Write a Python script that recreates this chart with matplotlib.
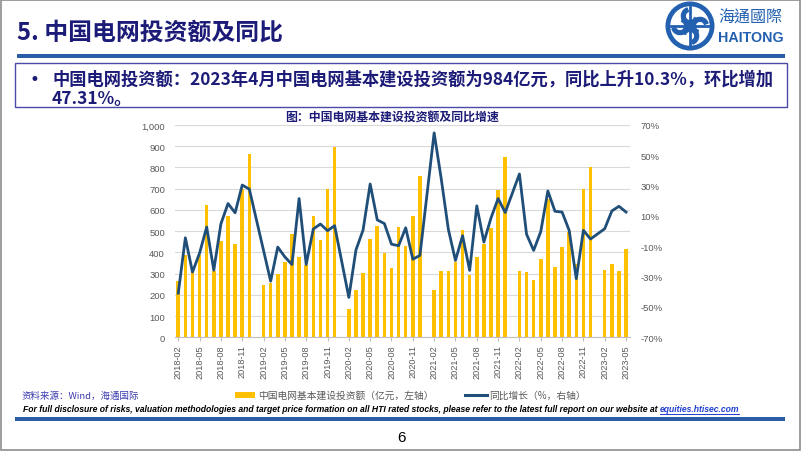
import numpy as np
import pandas as pd
import matplotlib
matplotlib.use('Agg')
import matplotlib.pyplot as plt
from matplotlib.patches import Rectangle, Circle, Wedge
from matplotlib.lines import Line2D
from matplotlib.ticker import FuncFormatter

plt.rcParams['font.family'] = ['Noto Sans CJK SC', 'DejaVu Sans']

# ---------------- data ----------------
months = pd.date_range('2018-02-01', '2023-05-01', freq='MS').strftime('%Y-%m').tolist()
tick_labels = ['2018-02', '2018-05', '2018-08', '2018-11', '2019-02', '2019-05', '2019-08',
               '2019-11', '2020-02', '2020-05', '2020-08', '2020-11', '2021-02', '2021-05',
               '2021-08', '2021-11', '2022-02', '2022-05', '2022-08', '2022-11', '2023-02',
               '2023-05']
nan = np.nan
# 中国电网基本建设投资额（亿元）
investment = [267, 388, 306, 390, 622, 314, 455, 570, 440, 700, 862,
              nan, 244, 255, 300, 355, 486, 378, 340, 573, 460, 699, 898,
              nan, 135, 224, 301, 463, 523, 396, 326, 518, 432, 570, 758,
              nan, 224, 311, 311, 353, 507, 292, 377, 440, 515, 694, 851,
              nan, 314, 308, 272, 368, 652, 333, 427, 495, 345, 698, 804,
              nan, 317, 347, 314, 416]
# 同比增长（%）
yoy = [-40.9, -4.4, -27.0, -14.5, 2.7, -25.8, 4.8, 18.2, 12.1, 30.4, 27.7,
       nan, nan, -33.0, -10.5, -17.0, -22.0, 21.5, -22.0, 1.4, 4.7, 0.3, 3.6,
       nan, -43.7, -12.4, 0.7, 31.1, 7.4, 5.0, -8.6, -9.6, 2.2, -18.5, -16.0,
       nan, 64.8, 34.5, 1.2, -19.3, -3.0, -25.9, 16.7, -7.2, 8.7, 21.5, 12.3,
       nan, 37.7, -2.0, -12.7, -0.3, 26.5, 13.1, 12.6, 0.5, -31.4, 0.5, -5.2,
       nan, 1.6, 13.3, 16.4, 12.6]

legend_bar = '中国电网基本建设投资额（亿元，左轴）'
legend_line = '同比增长（%，右轴）'

# ---------------- figure ----------------
W, H = 802, 452
fig = plt.figure(figsize=(W / 100, H / 100), dpi=100)
fig.patch.set_facecolor('white')
r = fig.canvas.get_renderer()


def fx(x):
    return x / W


def fy(y):
    return 1 - y / H


def fit_width(t, target):
    w = t.get_window_extent(r).width
    t.set_fontsize(t.get_fontsize() * target / w)


NAVY = '#1C1C78'
BLUE = '#2A5CA8'
GOLD = '#FFC000'
LINEC = '#1F4E79'
GRAY = '#595959'
LOGO = '#2360B0'

# slide border
fig.add_artist(Rectangle((0.001, 0.002), 0.997, 0.995, transform=fig.transFigure,
                         fill=False, edgecolor='#8C8C8C', lw=1.2))

# title
tt = fig.text(fx(17), fy(33), '5. 中国电网投资额及同比', fontsize=17, fontweight='bold',
              color=NAVY, ha='left', va='center')
fit_width(tt, 266)
# header rule
fig.add_artist(Rectangle((fx(17), fy(59)), fx(785) - fx(17), 4 / H, transform=fig.transFigure,
                         facecolor=BLUE, edgecolor='none'))

# logo
lax = fig.add_axes([fx(665), fy(52), 50 / W, 50 / H])
lax.set_xlim(-1.05, 1.05)
lax.set_ylim(-1.05, 1.05)
lax.set_aspect('equal')
lax.axis('off')
lax.add_patch(Circle((0, 0), 1.0, color=LOGO))
lax.add_patch(Circle((0, 0), 0.80, color='white'))
for ang in (0, 90, 180, 270):
    lax.add_patch(Wedge((0.42 * np.cos(np.radians(ang)), 0.42 * np.sin(np.radians(ang))),
                        0.36, ang + 20, ang + 250, width=0.16, color=LOGO))
lax.plot([-0.8, 0.8], [0, 0], color=LOGO, lw=2)
lax.plot([0, 0], [-0.8, 0.8], color=LOGO, lw=2)
l1 = fig.text(fx(718), fy(18), '海通國際', fontsize=13, color=LOGO, ha='left', va='center',
              family=['Noto Sans CJK TC', 'DejaVu Sans'])
fit_width(l1, 64)
l2 = fig.text(fx(718), fy(38), 'HAITONG', fontsize=12, color=LOGO, ha='left', va='center',
              fontweight='bold', family=['Liberation Sans Narrow', 'Liberation Sans', 'DejaVu Sans'])
fit_width(l2, 65)

# bullet box
fig.add_artist(Rectangle((fx(15), fy(108)), fx(787) - fx(15), (108 - 64) / H,
                         transform=fig.transFigure, fill=False, edgecolor='#4A4AA8', lw=1))
fig.text(fx(30), fy(80), '•', fontsize=12, color=NAVY, ha='left', va='center',
         family=['DejaVu Sans'])
b1 = fig.text(fx(52), fy(80), '中国电网投资额：2023年4月中国电网基本建设投资额为984亿元，同比上升10.3%，环比增加',
              fontsize=12.4, fontweight='bold', color=NAVY, ha='left', va='center')
fit_width(b1, 723)
fig.text(fx(52), fy(98.5), '47.31%。', fontsize=b1.get_fontsize(), fontweight='bold', color=NAVY,
         ha='left', va='center')

# chart title
fig.text(fx(392), fy(117), '图：中国电网基本建设投资额及同比增速', fontsize=8.6, fontweight='bold',
         color=NAVY, ha='center', va='center')

# ---------------- chart ----------------
ax = fig.add_axes([fx(174.7), fy(338.3), (629.6 - 174.7) / W, (338.3 - 126.0) / H])
x = np.arange(len(months))
inv = np.array(investment, dtype=float)
ax.bar(x, inv, width=0.5, color=GOLD, zorder=2)
ax.set_xlim(-0.5, len(months) - 0.5)
ax.set_ylim(0, 1000)
ax.set_yticks(np.arange(0, 1001, 100))
ax.yaxis.set_major_formatter(FuncFormatter(lambda v, p: f'{int(v):,}'))
ax.grid(axis='y', color='#D9D9D9', lw=0.8)
ax.set_axisbelow(True)
for s in ('top', 'left', 'right'):
    ax.spines[s].set_visible(False)
ax.spines['bottom'].set_color('#BFBFBF')
ax.tick_params(axis='y', length=0, labelsize=6.8, labelcolor=GRAY, pad=7)
pos = [months.index(t) for t in tick_labels]
ax.set_xticks(pos)
ax.set_xticklabels(tick_labels, rotation=90)
ax.tick_params(axis='x', length=3, color='#BFBFBF', labelsize=6.6, labelcolor=GRAY, pad=2)
for lab in ax.get_yticklabels() + ax.get_xticklabels():
    lab.set_family(['Liberation Sans', 'DejaVu Sans'])

ax2 = ax.twinx()
yv = np.array(yoy, dtype=float)
m = ~np.isnan(yv)
ax2.plot(x[m], yv[m], color=LINEC, lw=2.0, zorder=3)
ax2.set_ylim(-70, 70)
ax2.set_yticks(np.arange(-70, 71, 20))
ax2.yaxis.set_major_formatter(FuncFormatter(lambda v, p: f'{int(round(v))}%'))
for s in ax2.spines.values():
    s.set_visible(False)
ax2.tick_params(axis='y', length=0, labelsize=6.8, labelcolor=GRAY, pad=8)
for lab in ax2.get_yticklabels():
    lab.set_family(['Liberation Sans', 'DejaVu Sans'])

# ---------------- legend & footer ----------------
fig.add_artist(Rectangle((fx(235), fy(399)), 20 / W, 6 / H, transform=fig.transFigure,
                         facecolor=GOLD, edgecolor='none'))
fig.text(fx(258), fy(396), legend_bar, fontsize=7, color=GRAY, ha='left', va='center')
fig.add_artist(Line2D([fx(465), fx(487)], [fy(396), fy(396)], transform=fig.transFigure,
                      color=LINEC, lw=2.2))
fig.text(fx(489), fy(396), legend_line, fontsize=7, color=GRAY, ha='left', va='center')

fig.text(fx(21), fy(396), '资料来源：Wind，海通国际', fontsize=6.8, color='#3B3BB0',
         ha='left', va='center')

# disclaimer scaled to width
disc_main = ('For full disclosure of risks, valuation methodologies and target price formation '
             'on all HTI rated stocks, please refer to the latest full report on our website at ')
disc_link = 'equities.htisec.com'
dfam = ['Liberation Sans Narrow', 'Liberation Sans', 'DejaVu Sans']
t1 = fig.text(fx(23), fy(410), disc_main, fontsize=7, fontweight='bold', fontstyle='italic',
              color='black', ha='left', va='center', family=dfam)
t2 = fig.text(fx(23), fy(410), disc_link, fontsize=7, fontweight='bold', fontstyle='italic',
              color='#1F3FD0', ha='left', va='center', family=dfam)
w1 = t1.get_window_extent(r).width
w2 = t2.get_window_extent(r).width
target = 747 - 23
fs = 7 * target / (w1 + w2)
t1.set_fontsize(fs)
t2.set_fontsize(fs)
w1 = t1.get_window_extent(r).width
w2 = t2.get_window_extent(r).width
t2.set_x(fx(23 + w1))
fig.add_artist(Line2D([fx(23 + w1), fx(23 + w1 + w2)], [fy(415), fy(415)],
                      transform=fig.transFigure, color='#1F3FD0', lw=0.7))

fig.add_artist(Rectangle((fx(15), fy(422)), fx(785) - fx(15), 4 / H, transform=fig.transFigure,
                         facecolor=BLUE, edgecolor='none'))
fig.text(fx(401), fy(438), '6', fontsize=11, color='black', ha='center', va='center',
         family=['Liberation Sans', 'DejaVu Sans'])

fig.savefig('out.png', dpi=100, facecolor='white')
